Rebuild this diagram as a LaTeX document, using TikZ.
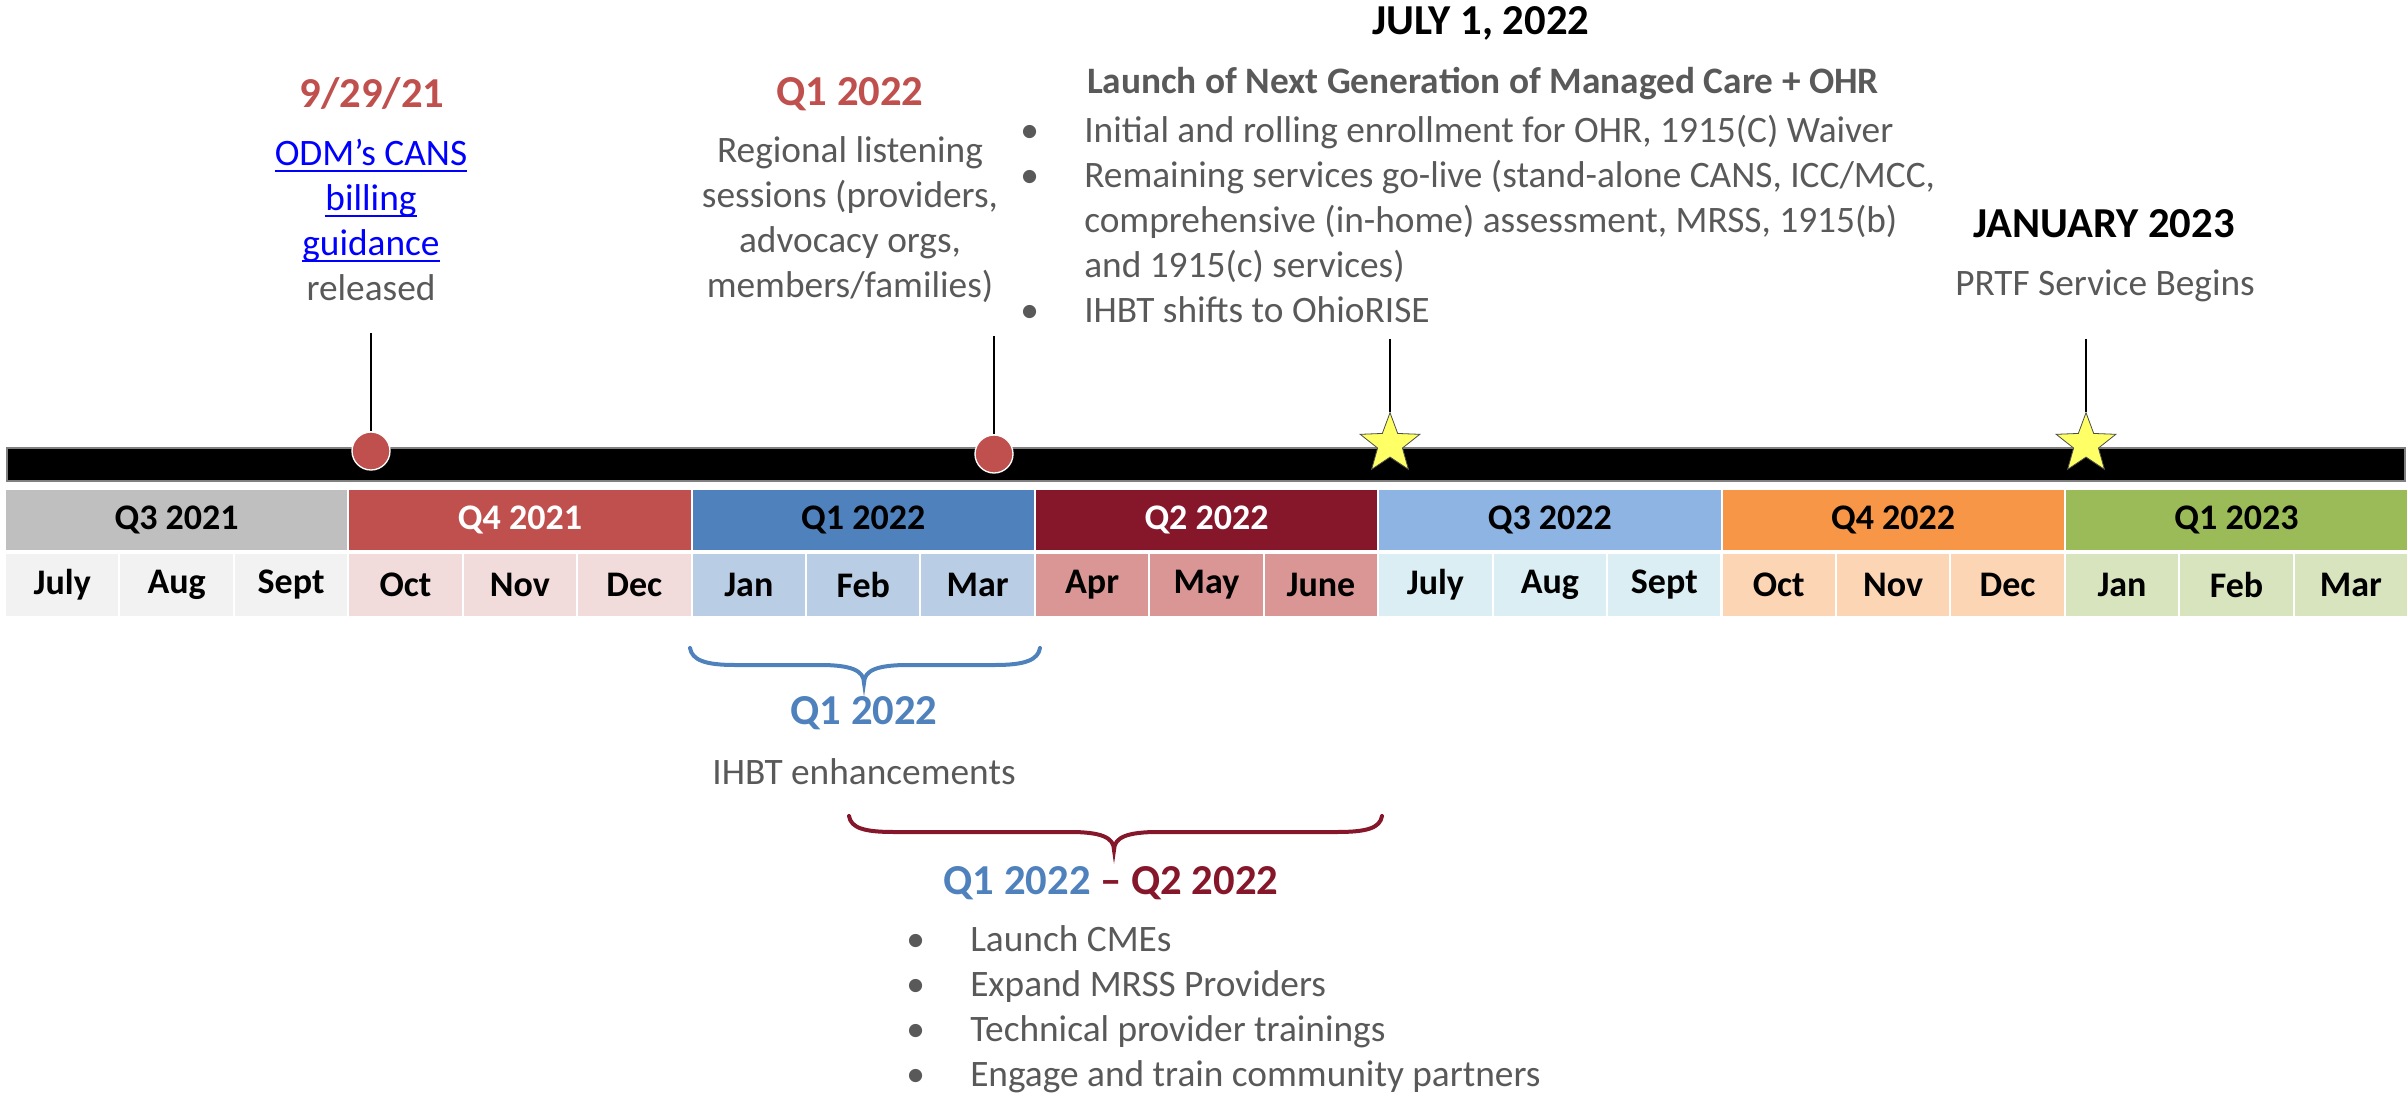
\documentclass[tikz,border=0pt]{standalone}
\usepackage{fontspec}
\setmainfont{Carlito}
\usepackage{tikz}
\usetikzlibrary{shapes.geometric}

\definecolor{txtgray}{RGB}{89,89,89}
\definecolor{markred}{RGB}{192,80,77}
\definecolor{linkblue}{RGB}{0,0,255}
\definecolor{qgray}{RGB}{191,191,191}
\definecolor{mgray}{RGB}{242,242,242}
\definecolor{qred}{RGB}{192,80,77}
\definecolor{mred}{RGB}{242,220,219}
\definecolor{qblue}{RGB}{79,129,189}
\definecolor{mblue}{RGB}{185,205,229}
\definecolor{qwine}{RGB}{134,22,42}
\definecolor{mwine}{RGB}{218,150,148}
\definecolor{qsky}{RGB}{141,180,226}
\definecolor{msky}{RGB}{219,238,244}
\definecolor{qorange}{RGB}{247,150,70}
\definecolor{morange}{RGB}{252,213,181}
\definecolor{qgreen}{RGB}{155,187,89}
\definecolor{mgreen}{RGB}{215,228,189}
\definecolor{staryellow}{RGB}{255,255,102}

\newcommand{\bodyfont}{\fontsize{28}{33.75}\selectfont}
\newcommand{\headfont}{\fontsize{32}{36}\selectfont\bfseries}
\newcommand{\bul}{\makebox[48pt][l]{\textbullet}}
\newcommand{\ulink}[1]{\setbox0\hbox{#1}\rlap{\rule[-4.5pt]{\wd0}{1.5pt}}\box0}

\begin{document}
\begin{tikzpicture}[x=0.75pt,y=0.75pt,yscale=-1,xscale=1,
  quarter/.style={draw=white,line width=1.5pt,minimum width=257.5pt,minimum height=46.5pt,inner sep=0pt,font=\fontsize{27}{30}\selectfont\bfseries},
  month/.style={draw=white,line width=1.5pt,minimum width=85.8pt,minimum height=48pt,inner sep=0pt,font=\fontsize{27}{30}\selectfont\bfseries},
  marker/.style={circle,fill=markred,draw=white,line width=1pt,minimum size=28.5pt,inner sep=0pt},
  starmark/.style={star,star points=5,star point ratio=2.4,fill=staryellow,draw=black!70,line width=0.6pt,minimum size=47pt,inner sep=0pt},
  stem/.style={draw=black,line width=1.5pt},
  body/.style={align=center,inner sep=0pt,text=txtgray,font=\bodyfont},
  head/.style={align=center,inner sep=0pt,font=\headfont},
  bracket/.style={line width=3pt,line cap=round}]
\useasboundingbox (0,0) rectangle (2408,1095);

%Timeline bar
\draw [fill=black,draw=gray,line width=1.5pt] (7,448) rectangle (2405,481) ;

%Quarters and months
\foreach \i/\lab/\qcol/\mcol/\tcol/\mA/\mB/\mC in {
  0/Q3 2021/qgray/mgray/black/July/Aug/Sept,
  1/Q4 2021/qred/mred/white/Oct/Nov/Dec,
  2/Q1 2022/qblue/mblue/black/Jan/Feb/Mar,
  3/Q2 2022/qwine/mwine/white/Apr/May/June,
  4/Q3 2022/qsky/msky/black/July/Aug/Sept,
  5/Q4 2022/qorange/morange/black/Oct/Nov/Dec,
  6/Q1 2023/qgreen/mgreen/black/Jan/Feb/Mar}{
  \node [quarter,fill=\qcol,text=\tcol] (q\i) at ({5+343.3*(\i+0.5)},520) {\lab};
  \foreach \m/\mn in {0/\mA,1/\mB,2/\mC}
    \node [month,fill=\mcol] (m\i\m) at ({5+343.3*\i+114.43*(\m+0.5)},585) {\mn};
}

%Shape: Circle markers
\node [marker] (c1) at (371,451) {};
\node [marker] (c2) at (994,454) {};
%Shape: Star markers
\node [starmark] (s1) at (1390,444) {};
\node [starmark] (s2) at (2086,444) {};

%Stems
\coordinate (t1) at (371,333);
\coordinate (t2) at (994,336);
\coordinate (t3) at (1390,339);
\coordinate (t4) at (2086,339);
\draw [stem] (t1) -- (c1);
\draw [stem] (t2) -- (c2);
\draw [stem] (t3) -- (s1);
\draw [stem] (t4) -- (s2);

% Text Node
\node [head,text=markred] (d1) at (372,94) {9/29/21};
% Text Node
\node [body] (d1txt) at (371,220) {{\color{linkblue}\ulink{ODM’s CANS}}\\{\color{linkblue}\ulink{billing}}\\{\color{linkblue}\ulink{guidance}}\\released};
% Text Node
\node [head,text=markred] (d2) at (850,94) {Q1 2022};
% Text Node
\node [body] (d2txt) at (850,220) {Regional listening\\sessions (providers,\\advocacy orgs,\\members/families)};

% Text Node
\node [head] (d3) at (1481,23) {JULY 1, 2022};
% Text Node
\node [head,text=txtgray,font=\fontsize{28}{30}\selectfont\bfseries] (d3sub) at (1483,84) {Launch of Next Generation of Managed Care + OHR};
% Text Node
\node [body,align=left,anchor=north west] (d3txt) at (1020,115) {\bul Initial and rolling enrollment for OHR, 1915(C) Waiver\\\bul Remaining services go-live (stand-alone CANS, ICC/MCC,\\\hspace*{48pt}comprehensive (in-home) assessment, MRSS, 1915(b)\\\hspace*{48pt}and 1915(c) services)\\\bul IHBT shifts to OhioRISE};

% Text Node
\node [head] (d4) at (2104,224) {JANUARY 2023};
% Text Node
\node [body] (d4txt) at (2105,286) {PRTF Service Begins};

%Brace Q1
\draw [bracket,draw=qblue] (690,648) .. controls (692,660) and (705,665) .. (735,665) -- (820,665) .. controls (850,665) and (864,670) .. (864,683) .. controls (864,670) and (878,665) .. (908,665) -- (995,665) .. controls (1025,665) and (1038,660) .. (1040,648) ;
% Text Node
\node [head,text=qblue] (b1) at (864,713) {Q1 2022};
% Text Node
\node [body] (b1txt) at (864,772) {IHBT enhancements};

%Brace Q1-Q2
\draw [bracket,draw=qwine] (849,816) .. controls (851,828) and (864,832) .. (894,832) -- (1070,832) .. controls (1100,832) and (1114,837) .. (1114,850) .. controls (1114,837) and (1128,832) .. (1158,832) -- (1337,832) .. controls (1367,832) and (1380,828) .. (1382,816) ;
% Text Node
\node [head] (b2) at (1111,883) {{\color{qblue}Q1 2022} {\color{qwine}– Q2 2022}};
% Text Node
\node [body,align=left,anchor=north west] (b2txt) at (906,925) {\bul Launch CMEs\\\bul Expand MRSS Providers\\\bul Technical provider trainings\\\bul Engage and train community partners};

\end{tikzpicture}
\end{document}
